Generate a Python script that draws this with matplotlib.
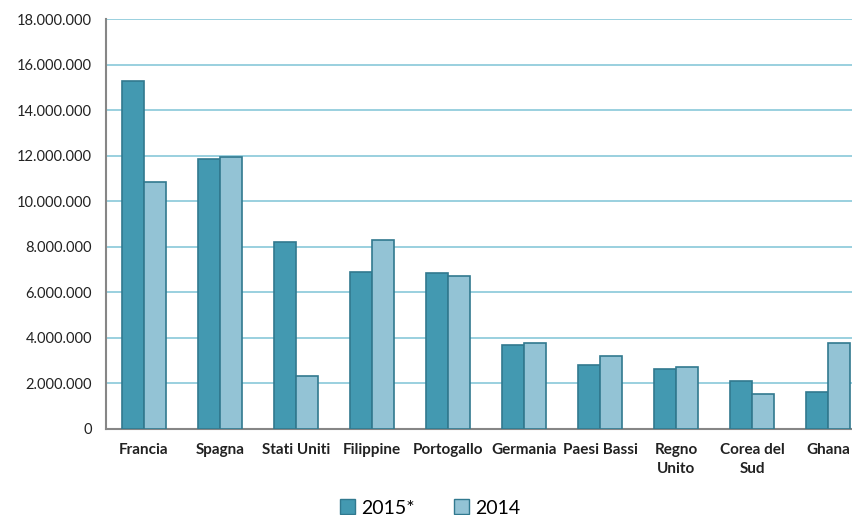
import numpy as np
import matplotlib.pyplot as plt
from matplotlib.patches import Patch

# data
paesi = ["Francia", "Spagna", "Stati Uniti", "Filippine", "Portogallo",
         "Germania", "Paesi Bassi", "Regno\nUnito", "Corea del\nSud", "Ghana"]
v2015 = [15300000, 11870000, 8220000, 6900000, 6860000,
         3690000, 2810000, 2640000, 2100000, 1630000]
v2014 = [10860000, 11960000, 2330000, 8300000, 6720000,
         3780000, 3210000, 2730000, 1540000, 3780000]
yticks = np.arange(0, 18000001, 2000000)

plt.rcParams['font.family'] = ['Lato', 'DejaVu Sans']

col15 = '#4399B1'
col14 = '#93C3D5'
edge = '#31798F'

fig = plt.figure(figsize=(8.52, 5.15), dpi=100)
ax = fig.add_axes([106 / 852, 1 - 429 / 515, 760 / 852, 410 / 515])

x = np.arange(len(paesi))
w = 0.29
ax.bar(x - w / 2, v2015, w, color=col15, edgecolor=edge, linewidth=1.2, zorder=3, label='2015*')
ax.bar(x + w / 2, v2014, w, color=col14, edgecolor=edge, linewidth=1.2, zorder=3, label='2014')

ax.set_xlim(-0.5, len(paesi) - 0.5)
ax.set_ylim(0, 18000000)
ax.set_yticks(yticks)
ax.set_yticklabels([f"{v:,}".replace(',', '.') for v in yticks], fontsize=10.5, color='#222222')
ax.set_xticks(x)
ax.set_xticklabels(paesi, fontsize=11, fontweight='bold', color='#222222', linespacing=1.45)
ax.tick_params(axis='x', length=0, pad=10)
ax.tick_params(axis='y', length=0, pad=10)

ax.yaxis.grid(True, color='#92CDDC', linewidth=1.3, zorder=0)
for s in ['top', 'right']:
    ax.spines[s].set_visible(False)
ax.spines['left'].set_color('#868686')
ax.spines['left'].set_linewidth(1.5)
ax.spines['bottom'].set_color('#868686')
ax.spines['bottom'].set_linewidth(1.5)

handles = [Patch(facecolor=col15, edgecolor=edge, label='2015*'),
           Patch(facecolor=col14, edgecolor=edge, label='2014')]
fig.legend(handles=handles, loc='center', bbox_to_anchor=(430 / 852, 1 - 508 / 515),
           ncol=2, frameon=False, fontsize=14, handlelength=0.8, handleheight=0.8,
           handletextpad=0.3, columnspacing=2.0)

fig.savefig('out.png', dpi=100)
